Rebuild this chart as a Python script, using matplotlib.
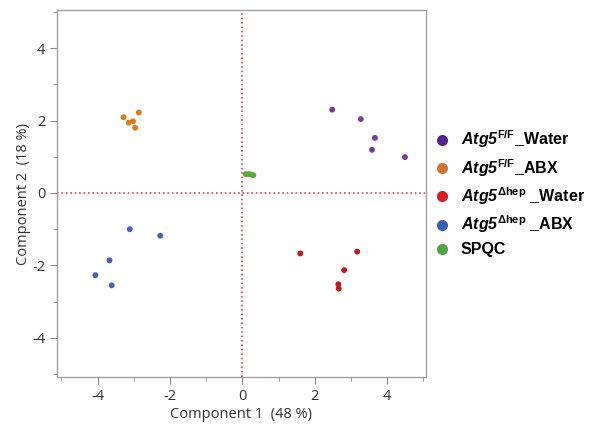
import matplotlib.pyplot as plt
from matplotlib.lines import Line2D
from matplotlib.ticker import MultipleLocator

plt.rcParams['mathtext.fontset'] = 'custom'
plt.rcParams['mathtext.rm'] = 'Liberation Sans:bold'
plt.rcParams['mathtext.bf'] = 'Liberation Sans:bold'
plt.rcParams['mathtext.bfit'] = 'Liberation Sans:bold:italic'
plt.rcParams['axes.unicode_minus'] = False
plt.rcParams['font.family'] = ['Open Sans', 'DejaVu Sans']

# PCA scores
ff_water_x = [2.48, 3.27, 3.66, 3.58, 4.49]
ff_water_y = [2.30, 2.04, 1.52, 1.19, 0.99]
ff_abx_x = [-3.28, -3.14, -3.02, -2.96, -2.86]
ff_abx_y = [2.09, 1.94, 1.98, 1.80, 2.22]
hep_water_x = [1.60, 3.17, 2.81, 2.65, 2.66]
hep_water_y = [-1.67, -1.62, -2.13, -2.52, -2.64]
hep_abx_x = [-3.11, -2.27, -3.67, -4.06, -3.61]
hep_abx_y = [-1.00, -1.18, -1.86, -2.27, -2.55]
spqc_x = [0.09, 0.17, 0.24, 0.30]
spqc_y = [0.52, 0.52, 0.51, 0.49]

labels = [r"$\mathbfit{Atg5}^{\mathbf{F/F}}$_Water",
          r"$\mathbfit{Atg5}^{\mathbf{F/F}}$_ABX",
          r"$\mathbfit{Atg5}^{\mathbf{\Delta hep}}$ _Water",
          r"$\mathbfit{Atg5}^{\mathbf{\Delta hep}}$ _ABX",
          "SPQC"]
point_colors = ['#7A3AA2', '#E07A1E', '#C0181F', '#3F65B6', '#5AAA3C']
legend_colors = ['#55208F', '#D07632', '#D61D22', '#3A5DB6', '#4BA646']

groups = [(ff_water_x, ff_water_y), (ff_abx_x, ff_abx_y),
          (hep_water_x, hep_water_y), (hep_abx_x, hep_abx_y),
          (spqc_x, spqc_y)]

fig = plt.figure(figsize=(5.9, 4.26), dpi=100)
ax = fig.add_axes([0.0966, 0.115, 0.6254, 0.8615])

ax.axvline(0, color='#D9434C', linestyle=':', linewidth=1.2, zorder=1)
ax.axhline(0, color='#D9434C', linestyle=':', linewidth=1.2, zorder=1)

for (gx, gy), c in zip(groups, point_colors):
    ax.scatter(gx, gy, s=18, color=c, edgecolors='none', zorder=3)

ax.set_xlim(-5.12, 5.07)
ax.set_ylim(-5.08, 5.05)
ax.xaxis.set_major_locator(MultipleLocator(2))
ax.yaxis.set_major_locator(MultipleLocator(2))
ax.xaxis.set_minor_locator(MultipleLocator(1))
ax.yaxis.set_minor_locator(MultipleLocator(1))
ax.tick_params(which='major', length=5, color='#888888', labelsize=10.5,
               labelcolor='#333333')
ax.tick_params(which='minor', length=3, color='#888888')
for sp in ax.spines.values():
    sp.set_color('#A0A0A0')
    sp.set_linewidth(1.0)

# zero ticks are red like the reference lines
fig.canvas.draw()
for t in ax.xaxis.get_major_ticks() + ax.yaxis.get_major_ticks():
    if abs(t.get_loc()) < 1e-9:
        t.tick1line.set_color('#D9434C')

ax.set_xlabel('Component 1  (48 %)', fontsize=10.5, color='#333333', labelpad=2)
ax.set_ylabel('Component 2  (18 %)', fontsize=10.5, color='#333333', labelpad=1)

handles = [Line2D([], [], marker='o', linestyle='none', markersize=8,
                  markerfacecolor=c, markeredgecolor='none')
           for c in legend_colors]
fig.legend(handles, labels, loc='upper left', bbox_to_anchor=(0.708, 0.732),
           frameon=False, prop={'family': 'Liberation Sans', 'weight': 'bold', 'size': 11.5},
           handletextpad=0.6, labelspacing=0.42, handlelength=1.2)

fig.savefig('out.png', dpi=100)
